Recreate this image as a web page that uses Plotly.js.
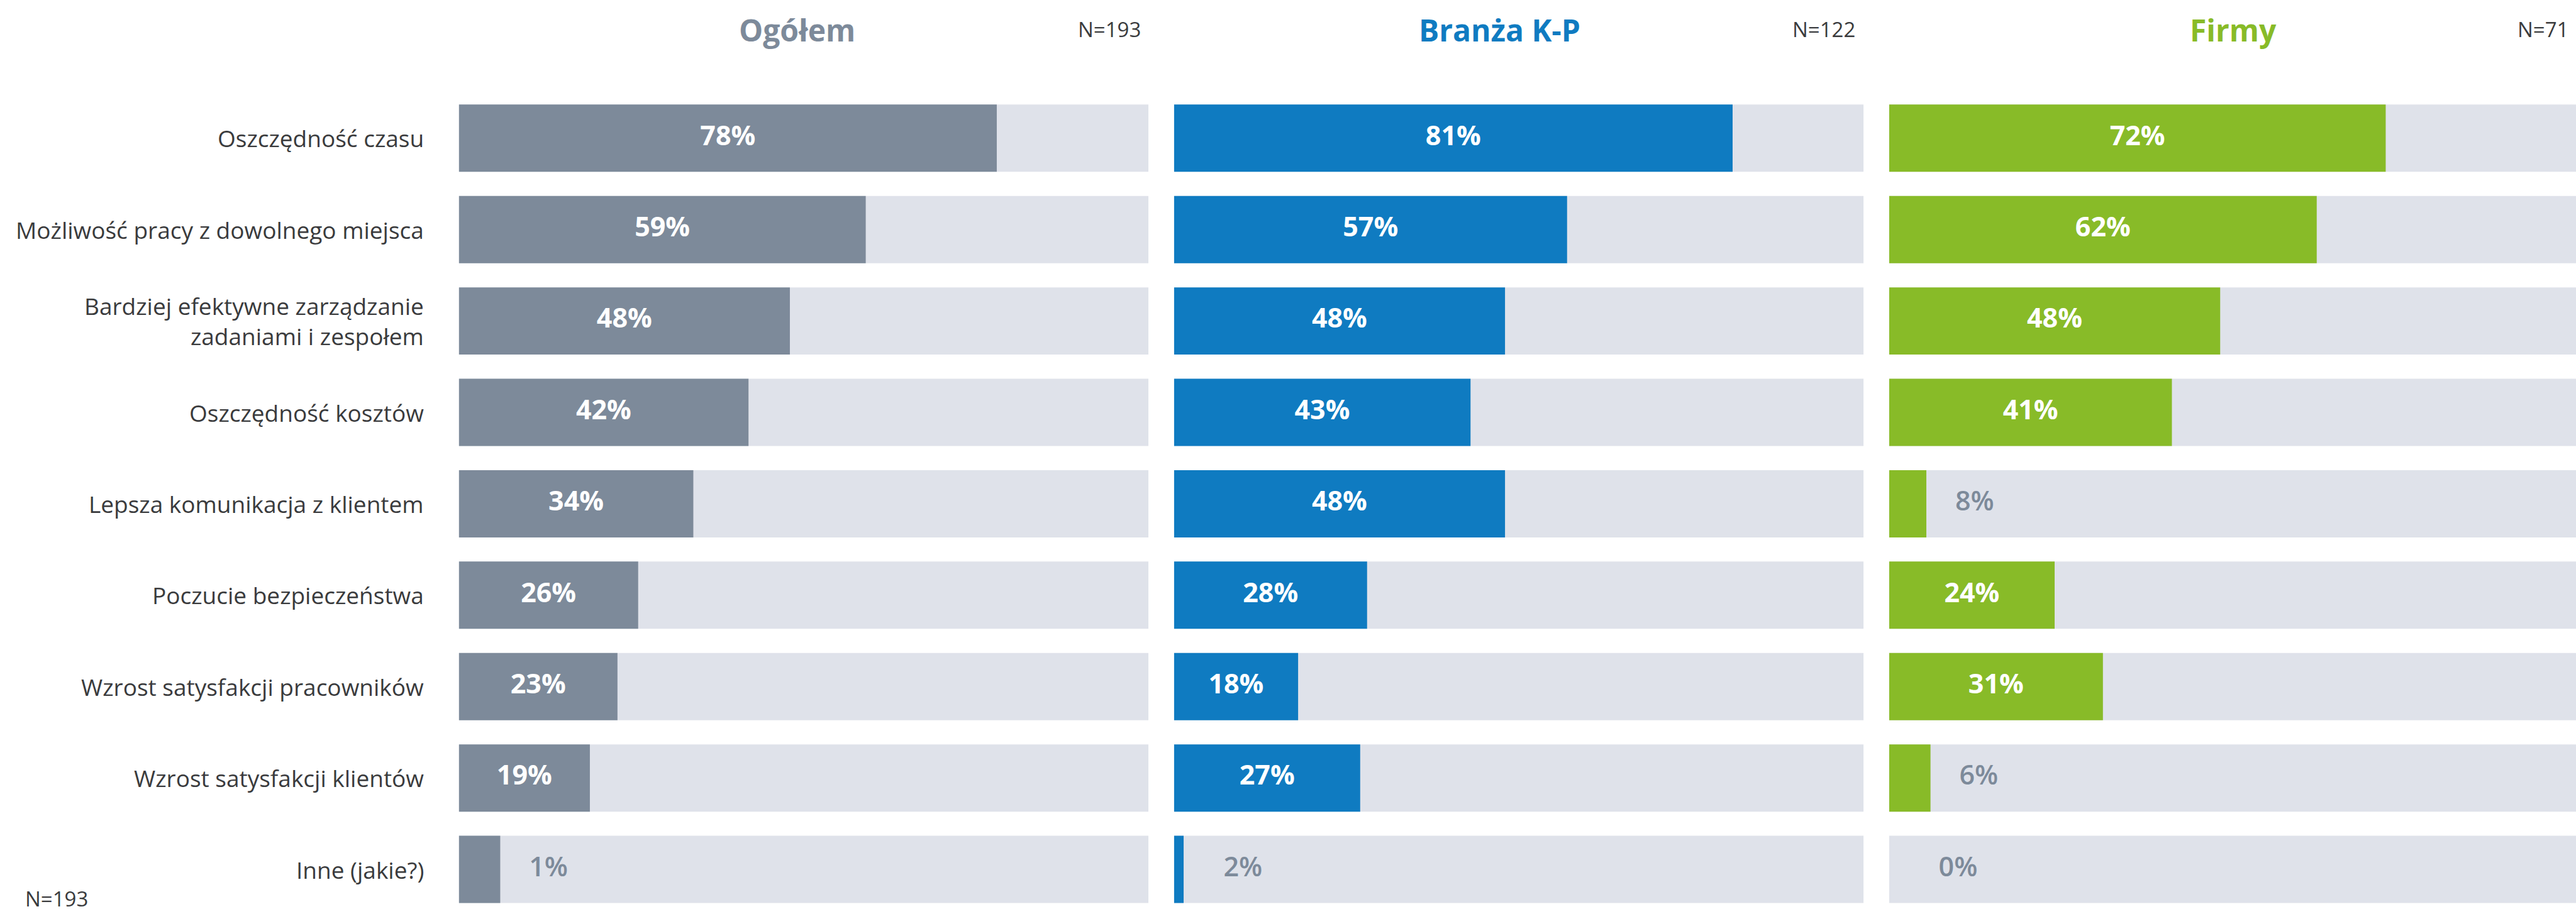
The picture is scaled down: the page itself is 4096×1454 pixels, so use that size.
<!DOCTYPE html>
<html>
<head>
<meta charset="utf-8">
<script src="https://cdn.plot.ly/plotly-3.0.1.min.js"></script>
<style>
html,body{margin:0;padding:0;overflow:hidden;background:#fff;}
#chart{width:4101px;height:1454px;}
</style>
</head>
<body>
<div id="chart"></div>
<script>
// ---- data ----
const categories = [
  "Oszczędność czasu",
  "Możliwość pracy z dowolnego miejsca",
  "Bardziej efektywne zarządzanie<br>zadaniami i zespołem",
  "Oszczędność kosztów",
  "Lepsza komunikacja z klientem",
  "Poczucie bezpieczeństwa",
  "Wzrost satysfakcji pracowników",
  "Wzrost satysfakcji klientów",
  "Inne (jakie?)"
];
const groupNames = ["Ogółem", "Branża K-P", "Firmy"];
const groupN = ["N=193", "N=122", "N=71"];
// printed percentages
const ogolemLabels = [78, 59, 48, 42, 34, 26, 23, 19, 1];
const branzaLabels = [81, 57, 48, 43, 48, 28, 18, 27, 2];
const firmyLabels  = [72, 62, 48, 41, 8, 24, 31, 6, 0];
// bar lengths as drawn (%)
const ogolemBars = [78, 59, 48, 42, 34, 26, 23, 19, 6];
const branzaBars = [81, 57, 48, 43, 48, 28, 18, 27, 1.4];
const firmyBars  = [72, 62, 48, 41, 5.4, 24, 31, 6, 0];
const footnote = "N=193";
const trackMax = 100;

// ---- style ----
const W = 4101, H = 1454;
const FONT = "Open Sans, Noto Sans, sans-serif";
const colors = ["#7d8a9a", "#0f7bc1", "#88bb28"];
const trackColor = "#dfe2ea";
const labelColor = "#3a3b3d";
const outsideColor = "#7d8a9a";
const panels = [[729.6, 1826.2], [1866.7, 2963.3], [3003.8, 4100.5]];
const plotTop = 147.1;
const barW = 0.7357;

const bars = [ogolemBars, branzaBars, firmyBars];
const labels = [ogolemLabels, branzaLabels, firmyLabels];
const axNames = ["x", "x2", "x3"];

const traces = [];
const annotations = [];
bars.forEach((vals, g) => {
  const xa = axNames[g];
  traces.push({
    type: "bar", orientation: "h", xaxis: xa, yaxis: "y",
    y: categories, x: categories.map(() => trackMax),
    width: barW, marker: {color: trackColor, line: {width: 0}},
    hoverinfo: "skip", showlegend: false
  });
  traces.push({
    type: "bar", orientation: "h", xaxis: xa, yaxis: "y",
    y: categories, x: vals,
    width: barW, marker: {color: colors[g], line: {width: 0}},
    hoverinfo: "skip", showlegend: false
  });
  const lab = labels[g];
  const inIdx = lab.map((v, i) => i).filter(i => lab[i] >= 10);
  const outIdx = lab.map((v, i) => i).filter(i => lab[i] < 10);
  traces.push({
    type: "scatter", mode: "text", xaxis: xa, yaxis: "y",
    y: inIdx.map(i => categories[i]),
    x: inIdx.map(i => vals[i] / 2),
    text: inIdx.map(i => lab[i] + "%"),
    textposition: "middle center",
    textfont: {family: FONT, size: 43, color: "#ffffff", weight: 700},
    hoverinfo: "skip", showlegend: false, cliponaxis: false
  });
  traces.push({
    type: "scatter", mode: "text", xaxis: xa, yaxis: "y",
    y: outIdx.map(i => categories[i]),
    x: outIdx.map(i => Math.max(vals[i], 3) + 7),
    text: outIdx.map(i => lab[i] + "%"),
    textposition: "middle center",
    textfont: {family: FONT, size: 43, color: outsideColor, weight: 600},
    hoverinfo: "skip", showlegend: false, cliponaxis: false
  });
});

// category labels
categories.forEach(c => {
  annotations.push({
    xref: "paper", yref: "y", x: 676 / W, y: c,
    xanchor: "right", yanchor: "middle", align: "right",
    text: c, showarrow: false,
    font: {family: FONT, size: 37, color: labelColor}
  });
});
// group titles and N
const titleX = [1267.6, 2384, 3551];
const nRight = [1816, 2952, 4086];
groupNames.forEach((t, g) => {
  annotations.push({
    xref: "paper", yref: "paper", x: titleX[g] / W, y: 1 - 47.6 / H,
    xanchor: "center", yanchor: "middle", text: "<b>" + t + "</b>", showarrow: false,
    font: {family: FONT, size: 48, color: colors[g]}
  });
  annotations.push({
    xref: "paper", yref: "paper", x: nRight[g] / W, y: 1 - 46.3 / H,
    xanchor: "right", yanchor: "middle", text: groupN[g], showarrow: false,
    font: {family: FONT, size: 33, color: labelColor}
  });
});
annotations.push({
  xref: "paper", yref: "paper", x: 37.8 / W, y: 1 - 1429 / H,
  xanchor: "left", yanchor: "middle", text: footnote, showarrow: false,
  font: {family: FONT, size: 33, color: labelColor}
});

const hidden = {range: [0, trackMax], showgrid: false, zeroline: false, showticklabels: false, ticks: "", showline: false, fixedrange: true};
const layout = {
  width: W, height: H,
  margin: {l: 0, r: 0, t: 0, b: 0, pad: 0},
  paper_bgcolor: "#ffffff", plot_bgcolor: "rgba(0,0,0,0)",
  barmode: "overlay",
  showlegend: false,
  xaxis:  Object.assign({}, hidden, {domain: [panels[0][0] / W, panels[0][1] / W], anchor: "y"}),
  xaxis2: Object.assign({}, hidden, {domain: [panels[1][0] / W, panels[1][1] / W], anchor: "y"}),
  xaxis3: Object.assign({}, hidden, {domain: [panels[2][0] / W, Math.min(1, panels[2][1] / W)], anchor: "y"}),
  yaxis: {
    domain: [0, 1 - plotTop / H], type: "category",
    categoryorder: "array", categoryarray: categories,
    range: [-0.5 + (H - plotTop) / 145.41, -0.5],
    showgrid: false, zeroline: false, showticklabels: false, ticks: "", showline: false
  },
  annotations: annotations
};
Plotly.newPlot("chart", traces, layout, {staticPlot: true, displayModeBar: false});
</script>
</body>
</html>
